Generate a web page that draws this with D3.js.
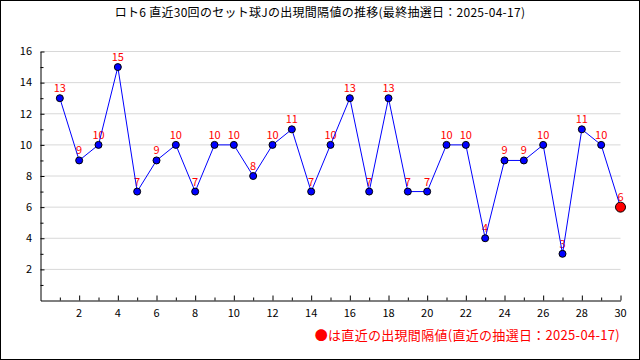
<!DOCTYPE html>
<html>
<head>
<meta charset="utf-8">
<script src="https://cdn.jsdelivr.net/npm/d3@7"></script>
<style>
  body { margin: 0; background: #fff; }
  svg { display: block; font-family: "Noto Sans CJK JP", "DejaVu Sans", sans-serif; }
</style>
</head>
<body>
<svg width="640" height="360"></svg>
<script>
// draw numbers 1..30, interval values
const draws = d3.range(1, 31);
const intervals = [13, 9, 10, 15, 7, 9, 10, 7, 10, 10, 8, 10, 11, 7, 10, 13, 7, 13, 7, 7, 10, 10, 4, 9, 9, 10, 3, 11, 10, 6];
const yTicks = [2, 4, 6, 8, 10, 12, 14, 16];
const xTicks = [2, 4, 6, 8, 10, 12, 14, 16, 18, 20, 22, 24, 26, 28, 30];
const titleText = "ロト6 直近30回のセット球Jの出現間隔値の推移(最終抽選日：2025-04-17)";
const noteText = "●は直近の出現間隔値(直近の抽選日：2025-04-17)";

const data = draws.map((d, i) => ({draw: d, value: intervals[i]}));

const svg = d3.select("svg");

// outer frame
svg.append("rect")
    .attr("x", 0.5).attr("y", 0.5)
    .attr("width", 639).attr("height", 359)
    .attr("fill", "#fff")
    .attr("stroke", "#000");

const x = d3.scaleLinear().domain([0, 30]).range([40.5, 620.5]);
const y = d3.scaleLinear().domain([0, 16]).range([300.5, 51.5]);

// grid
svg.append("g")
    .selectAll("line")
    .data(yTicks)
    .join("line")
      .attr("x1", x(0)).attr("x2", x(30))
      .attr("y1", d => y(d)).attr("y2", d => y(d))
      .attr("stroke", "#d8d8d8");

// y axis
const yAxis = svg.append("g")
    .attr("transform", `translate(${x(0)},0)`)
    .call(d3.axisRight(y).tickValues(d3.range(1, 17)).tickSize(4).tickSizeOuter(0).tickFormat(""));
yAxis.select(".domain").attr("stroke", "#000");
yAxis.selectAll(".tick line").attr("x2", d => d % 2 === 0 ? 4 : 3);

svg.append("g")
    .selectAll("text")
    .data(yTicks)
    .join("text")
      .attr("x", 32)
      .attr("y", d => y(d))
      .attr("dy", "0.35em")
      .attr("text-anchor", "end")
      .attr("font-size", 11)
      .text(d => d);

// x axis
const xAxis = svg.append("g")
    .attr("transform", `translate(0,${y(0)})`)
    .call(d3.axisTop(x).tickValues(d3.range(1, 31)).tickSize(4).tickSizeOuter(0).tickFormat(""));
xAxis.select(".domain").attr("stroke", "#000");
xAxis.selectAll(".tick line").attr("y2", d => d % 2 === 0 ? -5 : -3);

svg.append("g")
    .selectAll("text")
    .data(xTicks)
    .join("text")
      .attr("x", d => x(d))
      .attr("y", 313)
      .attr("dy", "0.35em")
      .attr("text-anchor", "middle")
      .attr("font-size", 11)
      .text(d => d);

// value labels
svg.append("g")
    .selectAll("text")
    .data(data)
    .join("text")
      .attr("x", d => x(d.draw))
      .attr("y", d => y(d.value) - 6)
      .attr("text-anchor", "middle")
      .attr("font-size", 11)
      .attr("fill", "#ff0000")
      .text(d => d.value);

// line
const line = d3.line()
    .x(d => x(d.draw))
    .y(d => y(d.value));

svg.append("path")
    .datum(data)
    .attr("fill", "none")
    .attr("stroke", "#0000ff")
    .attr("stroke-width", 1)
    .attr("d", line);

// points
svg.append("g")
    .selectAll("circle")
    .data(data)
    .join("circle")
      .attr("cx", d => x(d.draw))
      .attr("cy", d => y(d.value))
      .attr("r", (d, i) => i === data.length - 1 ? 5 : 3.5)
      .attr("fill", (d, i) => i === data.length - 1 ? "#ff0000" : "#0000ff")
      .attr("stroke", "#000")
      .attr("stroke-width", 1);

// title
svg.append("text")
    .attr("x", 320)
    .attr("y", 13)
    .attr("dy", "0.35em")
    .attr("text-anchor", "middle")
    .attr("font-size", 12)
    .attr("letter-spacing", 0.28)
    .text(titleText);

// note
svg.append("text")
    .attr("x", 620)
    .attr("y", 335)
    .attr("dy", "0.35em")
    .attr("text-anchor", "end")
    .attr("font-size", 13)
    .attr("letter-spacing", 0.3)
    .attr("fill", "#ff0000")
    .text(noteText);
</script>
</body>
</html>
